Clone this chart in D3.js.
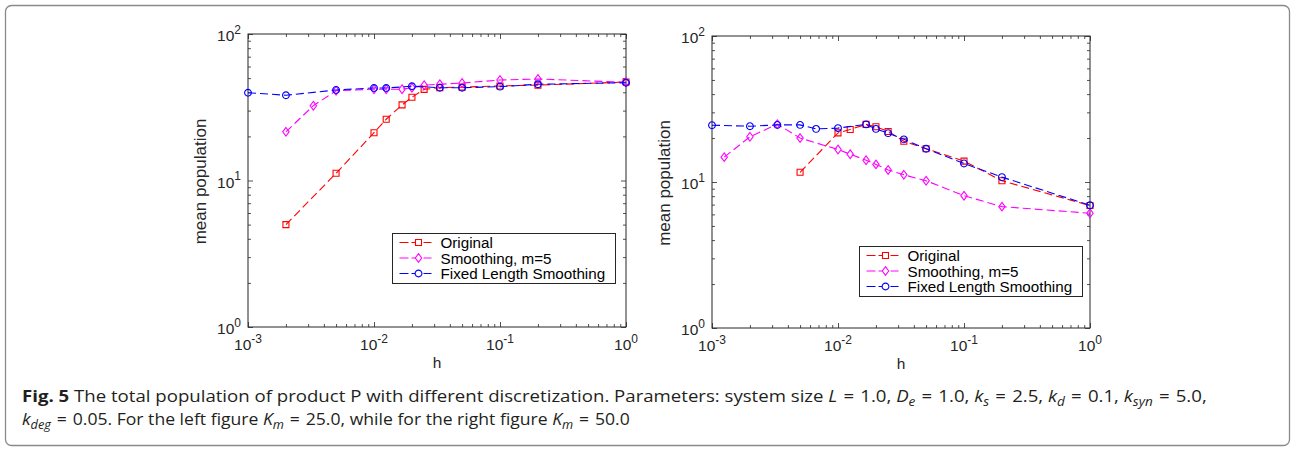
<!DOCTYPE html>
<html>
<head>
<meta charset="utf-8">
<script src="https://cdn.jsdelivr.net/npm/d3@7"></script>
<style>
  body { margin: 0; background: #fff; }
  svg { display: block; }
</style>
</head>
<body>
<svg id="fig" width="1292" height="451"></svg>
<script>

// ---- data ----
var xTickExps = [ -3, -2, -1, 0 ];
var yTickExps = [ 0, 1, 2 ];
var seriesNames = [ "Original", "Smoothing, m=5", "Fixed Length Smoothing" ];

// left panel (K_m = 25)
var hLeftOriginal   = [ 0.002, 0.005, 0.01, 0.0125, 0.0167, 0.02, 0.025, 0.0333, 0.05, 0.1, 0.2, 1 ];
var popLeftOriginal = [ 5.0, 11.2, 21.2, 26.2, 32.8, 37.0, 41.9, 43.0, 43.4, 44.2, 44.8, 47.0 ];
var hLeftSmooth     = [ 0.002, 0.0033, 0.005, 0.01, 0.0125, 0.0167, 0.02, 0.025, 0.0333, 0.05, 0.1, 0.2, 1 ];
var popLeftSmooth   = [ 21.5, 32.4, 41.0, 42.0, 42.0, 42.0, 43.0, 44.7, 45.4, 46.3, 48.5, 49.3, 46.8 ];
var hLeftFixed      = [ 0.001, 0.002, 0.005, 0.01, 0.0125, 0.02, 0.0333, 0.05, 0.1, 0.2, 1 ];
var popLeftFixed    = [ 39.7, 38.2, 41.5, 42.8, 42.8, 44.0, 43.0, 43.0, 43.7, 45.4, 46.5 ];

// right panel (K_m = 50)
var hRightOriginal   = [ 0.005, 0.01, 0.0125, 0.0167, 0.02, 0.025, 0.0333, 0.05, 0.1, 0.2, 1 ];
var popRightOriginal = [ 11.65, 21.7, 22.9, 24.8, 23.9, 22.2, 19.0, 16.9, 13.9, 10.2, 6.9 ];
var hRightSmooth     = [ 0.00125, 0.002, 0.0033, 0.005, 0.01, 0.0125, 0.0167, 0.02, 0.025, 0.0333, 0.05, 0.1, 0.2, 1 ];
var popRightSmooth   = [ 14.8, 20.4, 24.9, 20.0, 16.7, 15.5, 14.1, 13.2, 12.1, 11.2, 10.2, 8.06, 6.78, 6.11 ];
var hRightFixed      = [ 0.001, 0.002, 0.0033, 0.005, 0.0067, 0.01, 0.0167, 0.02, 0.025, 0.0333, 0.05, 0.1, 0.2, 1 ];
var popRightFixed    = [ 24.5, 24.1, 24.6, 24.6, 23.1, 23.4, 24.8, 23.1, 21.6, 19.6, 16.9, 13.4, 10.8, 6.93 ];

// ---- styles ----
var axisFont = "'Liberation Sans', Arial, Helvetica, sans-serif";
var axisColor = "#262626";
var colors = [ "#ff0000", "#ff00ff", "#0000ff" ];
var markers = [ "square", "diamond", "circle" ];
var dash = "8,4";

var svg = d3.select("#fig");

// rounded frame round the whole figure
svg.append("rect")
  .attr("x", 5.5).attr("y", 5.5)
  .attr("width", 1284).attr("height", 440)
  .attr("rx", 6)
  .attr("fill", "none")
  .attr("stroke", "#8a8a8a")
  .attr("stroke-width", 1.3);

function zip( hs, vs ) {
  return hs.map( function( h, i ) { return { h : h, v : vs[ i ] }; } );
}

function markerPath( kind ) {
  if( kind == "square" ) return "M-3,-3H3V3H-3Z";
  if( kind == "diamond" ) return "M0,-4.3L3.2,0L0,4.3L-3.2,0Z";
  return "M3.4,0A3.4,3.4 0 1,1 -3.4,0A3.4,3.4 0 1,1 3.4,0Z";
}

function minorValues( e0, e1 ) {
  var vals = [];
  for( var e = e0; e < e1; ++e ) {
    for( var m = 2; m <= 9; ++m ) vals.push( m * Math.pow( 10, e ) );
  }
  return vals;
}

function tickAxis( axisFn, scale, vals, size ) {
  return axisFn( scale ).tickValues( vals ).tickSizeInner( -size ).tickSizeOuter( 0 ).tickFormat( "" );
}

function powLabel( sel, exp ) {
  sel.append("tspan").text("10");
  sel.append("tspan").attr("dy", -7.5).attr("font-size", 12).text( exp );
}

var panels = [
  { left : 248, top : 34, width : 378, height : 293, labelX : -42,
    legend : { x : 392.5, y : 233.5, w : 223, h : 50 },
    series : [ zip( hLeftOriginal, popLeftOriginal ), zip( hLeftSmooth, popLeftSmooth ), zip( hLeftFixed, popLeftFixed ) ] },
  { left : 712, top : 36, width : 378, height : 292, labelX : -42,
    legend : { x : 859.5, y : 246.5, w : 223, h : 50 },
    series : [ zip( hRightOriginal, popRightOriginal ), zip( hRightSmooth, popRightSmooth ), zip( hRightFixed, popRightFixed ) ] }
];

function drawPanel( p ) {
  var x = d3.scaleLog().domain( [ 1e-3, 1 ] ).range( [ 0, p.width ] );
  var y = d3.scaleLog().domain( [ 1, 100 ] ).range( [ p.height, 0 ] );
  var g = svg.append("g").attr("transform", "translate(" + p.left + "," + p.top + ")");

  var xMajor = xTickExps.map( function( e ) { return Math.pow( 10, e ); } );
  var yMajor = yTickExps.map( function( e ) { return Math.pow( 10, e ); } );
  var xMinor = minorValues( -3, 0 );
  var yMinor = minorValues( 0, 2 );

  // inward ticks on all four sides
  var axes = [
    [ d3.axisBottom, x, "translate(0," + p.height + ")" ],
    [ d3.axisTop, x, "translate(0,0)" ],
    [ d3.axisLeft, y, "translate(0,0)" ],
    [ d3.axisRight, y, "translate(" + p.width + ",0)" ]
  ];
  axes.forEach( function( a ) {
    var isX = a[ 1 ] === x;
    [ [ isX ? xMajor : yMajor, 5 ], [ isX ? xMinor : yMinor, 3 ] ].forEach( function( t ) {
      var ax = g.append("g").attr("transform", a[ 2 ]).call( tickAxis( a[ 0 ], a[ 1 ], t[ 0 ], t[ 1 ] ) );
      ax.select(".domain").remove();
      ax.selectAll("line").attr("stroke", axisColor).attr("stroke-width", 0.8);
    } );
  } );

  g.append("rect")
    .attr("x", 0).attr("y", 0)
    .attr("width", p.width).attr("height", p.height)
    .attr("fill", "none")
    .attr("stroke", axisColor)
    .attr("stroke-width", 1);

  // tick labels
  xTickExps.forEach( function( e ) {
    g.append("text")
      .attr("x", x( Math.pow( 10, e ) ))
      .attr("y", p.height + 23)
      .attr("text-anchor", "middle")
      .attr("font-family", axisFont)
      .attr("font-size", 15.5)
      .attr("fill", axisColor)
      .call( powLabel, String( e ) );
  } );
  yTickExps.forEach( function( e ) {
    g.append("text")
      .attr("x", -7)
      .attr("y", y( Math.pow( 10, e ) ) + 7)
      .attr("text-anchor", "end")
      .attr("font-family", axisFont)
      .attr("font-size", 15.5)
      .attr("fill", axisColor)
      .call( powLabel, String( e ) );
  } );

  // axis titles
  g.append("text")
    .attr("x", p.width / 2)
    .attr("y", p.height + 41)
    .attr("text-anchor", "middle")
    .attr("font-family", axisFont)
    .attr("font-size", 15.5)
    .attr("fill", axisColor)
    .text("h");
  g.append("text")
    .attr("transform", "translate(" + p.labelX + "," + ( p.height / 2 + 1 ) + ") rotate(-90)")
    .attr("text-anchor", "middle")
    .attr("font-family", axisFont)
    .attr("font-size", 17)
    .attr("fill", axisColor)
    .text("mean population");

  // series, drawn in legend order so blue sits on top
  var line = d3.line()
    .x( function( d ) { return x( d.h ); } )
    .y( function( d ) { return y( d.v ); } );

  p.series.forEach( function( data, i ) {
    g.append("path")
      .datum( data )
      .attr("d", line)
      .attr("fill", "none")
      .attr("stroke", colors[ i ])
      .attr("stroke-width", 1.1)
      .attr("stroke-dasharray", dash);
    g.append("g").selectAll("path")
      .data( data )
      .join("path")
      .attr("d", markerPath( markers[ i ] ))
      .attr("transform", function( d ) { return "translate(" + x( d.h ) + "," + y( d.v ) + ")"; })
      .attr("fill", "none")
      .attr("stroke", colors[ i ])
      .attr("stroke-width", 1.1);
  } );

  // legend
  var L = p.legend;
  var lg = svg.append("g").attr("transform", "translate(" + L.x + "," + L.y + ")");
  lg.append("rect")
    .attr("width", L.w).attr("height", L.h)
    .attr("fill", "#fff")
    .attr("stroke", axisColor)
    .attr("stroke-width", 1);
  seriesNames.forEach( function( name, i ) {
    var cy = 9 + i * 15.5;
    lg.append("line")
      .attr("x1", 7).attr("x2", 39)
      .attr("y1", cy).attr("y2", cy)
      .attr("stroke", colors[ i ])
      .attr("stroke-width", 1.1)
      .attr("stroke-dasharray", "9,3");
    lg.append("path")
      .attr("d", markerPath( markers[ i ] ))
      .attr("transform", "translate(26," + cy + ")")
      .attr("fill", "#fff")
      .attr("stroke", colors[ i ])
      .attr("stroke-width", 1.1);
    lg.append("text")
      .attr("x", 48)
      .attr("y", cy + 5.5)
      .attr("font-family", axisFont)
      .attr("font-size", 15.2)
      .attr("fill", "#000")
      .text( name );
  } );
}

panels.forEach( drawPanel );

// ---- caption ----
var captionFont = "'Open Sans', 'Noto Sans', sans-serif";
var eq = "\u2004=\u2004";
var captionLines = [
  { y : 402, width : 1186, parts : [
    { t : "Fig. 5", b : true },
    { t : " The total population of product P with different discretization. Parameters: system size " },
    { t : "L", i : true }, { t : eq + "1.0, " },
    { t : "D", i : true }, { t : "e", i : true, sub : true }, { t : eq + "1.0, " },
    { t : "k", i : true }, { t : "s", i : true, sub : true }, { t : eq + "2.5, " },
    { t : "k", i : true }, { t : "d", i : true, sub : true }, { t : eq + "0.1, " },
    { t : "k", i : true }, { t : "syn", i : true, sub : true }, { t : eq + "5.0," } ] },
  { y : 425, width : 608, parts : [
    { t : "k", i : true }, { t : "deg", i : true, sub : true },
    { t : eq + "0.05. For the left figure " },
    { t : "K", i : true }, { t : "m", i : true, sub : true }, { t : eq + "25.0, while for the right figure " },
    { t : "K", i : true }, { t : "m", i : true, sub : true }, { t : eq + "50.0" } ] }
];

captionLines.forEach( function( ln ) {
  var gl = svg.append("g");
  var txt = gl.append("text")
    .attr("x", 0).attr("y", 0)
    .attr("font-family", captionFont)
    .attr("font-size", 16.5)
    .attr("fill", "#231f20");
  var shifted = false;
  ln.parts.forEach( function( s ) {
    var ts = txt.append("tspan").text( s.t );
    if( s.b ) ts.attr("font-weight", "bold");
    if( s.i ) ts.attr("font-style", "italic");
    if( s.sub ) { ts.attr("font-size", 12).attr("dy", 4); shifted = true; }
    else if( shifted ) { ts.attr("dy", -4); shifted = false; }
  } );
  var scaleX = ln.width / txt.node().getComputedTextLength();
  gl.attr("transform", "translate(22," + ln.y + ") scale(" + scaleX + ",1)");
} );

</script>
</body>
</html>
